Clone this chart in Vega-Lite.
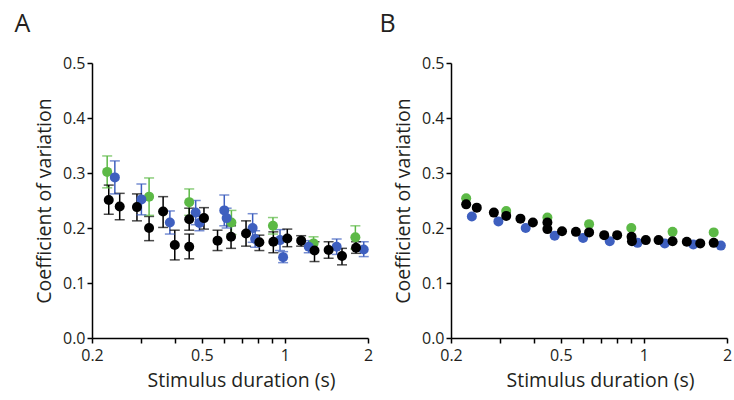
{
  "$schema": "https://vega.github.io/schema/vega-lite/v6.json",
  "padding": {"left": 14, "top": 12, "right": 2, "bottom": 2},
  "spacing": 6,
  "datasets": {
    "A": [
      {"g": "green", "x": 0.227, "y": 0.302, "lo": 0.273, "hi": 0.331},
      {"g": "green", "x": 0.322, "y": 0.257, "lo": 0.223, "hi": 0.291},
      {"g": "green", "x": 0.45, "y": 0.247, "lo": 0.223, "hi": 0.271},
      {"g": "green", "x": 0.64, "y": 0.21, "lo": 0.188, "hi": 0.232},
      {"g": "green", "x": 0.905, "y": 0.204, "lo": 0.189, "hi": 0.219},
      {"g": "green", "x": 1.27, "y": 0.172, "lo": 0.16, "hi": 0.184},
      {"g": "green", "x": 1.8, "y": 0.183, "lo": 0.162, "hi": 0.204},
      {"g": "blue", "x": 0.242, "y": 0.292, "lo": 0.262, "hi": 0.322},
      {"g": "blue", "x": 0.302, "y": 0.252, "lo": 0.224, "hi": 0.28},
      {"g": "blue", "x": 0.383, "y": 0.21, "lo": 0.189, "hi": 0.231},
      {"g": "blue", "x": 0.475, "y": 0.228, "lo": 0.206, "hi": 0.25},
      {"g": "blue", "x": 0.49, "y": 0.209, "lo": 0.195, "hi": 0.223},
      {"g": "blue", "x": 0.603, "y": 0.232, "lo": 0.204, "hi": 0.26},
      {"g": "blue", "x": 0.615, "y": 0.218, "lo": 0.2, "hi": 0.236},
      {"g": "blue", "x": 0.764, "y": 0.2, "lo": 0.174, "hi": 0.226},
      {"g": "blue", "x": 0.78, "y": 0.18, "lo": 0.165, "hi": 0.195},
      {"g": "blue", "x": 0.96, "y": 0.178, "lo": 0.159, "hi": 0.197},
      {"g": "blue", "x": 0.985, "y": 0.147, "lo": 0.137, "hi": 0.157},
      {"g": "blue", "x": 1.22, "y": 0.166, "lo": 0.155, "hi": 0.177},
      {"g": "blue", "x": 1.54, "y": 0.166, "lo": 0.152, "hi": 0.18},
      {"g": "blue", "x": 1.93, "y": 0.161, "lo": 0.148, "hi": 0.175},
      {"g": "black", "x": 0.23, "y": 0.251, "lo": 0.225, "hi": 0.278},
      {"g": "black", "x": 0.252, "y": 0.239, "lo": 0.215, "hi": 0.263},
      {"g": "black", "x": 0.291, "y": 0.238, "lo": 0.213, "hi": 0.262},
      {"g": "black", "x": 0.322, "y": 0.2, "lo": 0.177, "hi": 0.221},
      {"g": "black", "x": 0.362, "y": 0.23, "lo": 0.201, "hi": 0.257},
      {"g": "black", "x": 0.399, "y": 0.169, "lo": 0.142, "hi": 0.196},
      {"g": "black", "x": 0.45, "y": 0.166, "lo": 0.144, "hi": 0.189},
      {"g": "black", "x": 0.45, "y": 0.216, "lo": 0.196, "hi": 0.236},
      {"g": "black", "x": 0.509, "y": 0.218, "lo": 0.198, "hi": 0.237},
      {"g": "black", "x": 0.57, "y": 0.177, "lo": 0.159, "hi": 0.196},
      {"g": "black", "x": 0.638, "y": 0.184, "lo": 0.163, "hi": 0.204},
      {"g": "black", "x": 0.723, "y": 0.19, "lo": 0.167, "hi": 0.213},
      {"g": "black", "x": 0.808, "y": 0.174, "lo": 0.159, "hi": 0.187},
      {"g": "black", "x": 0.908, "y": 0.175, "lo": 0.155, "hi": 0.193},
      {"g": "black", "x": 1.02, "y": 0.181, "lo": 0.166, "hi": 0.198},
      {"g": "black", "x": 1.145, "y": 0.177, "lo": 0.167, "hi": 0.186},
      {"g": "black", "x": 1.28, "y": 0.159, "lo": 0.139, "hi": 0.175},
      {"g": "black", "x": 1.44, "y": 0.16, "lo": 0.145, "hi": 0.175},
      {"g": "black", "x": 1.61, "y": 0.149, "lo": 0.133, "hi": 0.163},
      {"g": "black", "x": 1.81, "y": 0.164, "lo": 0.154, "hi": 0.175}
    ],
    "B": [
      {"g": "green", "x": 0.227, "y": 0.254},
      {"g": "green", "x": 0.317, "y": 0.231},
      {"g": "green", "x": 0.447, "y": 0.219},
      {"g": "green", "x": 0.633, "y": 0.207},
      {"g": "green", "x": 0.9, "y": 0.2},
      {"g": "green", "x": 1.27, "y": 0.193},
      {"g": "green", "x": 1.79, "y": 0.192},
      {"g": "blue", "x": 0.238, "y": 0.221},
      {"g": "blue", "x": 0.297, "y": 0.212},
      {"g": "blue", "x": 0.373, "y": 0.2},
      {"g": "blue", "x": 0.475, "y": 0.186},
      {"g": "blue", "x": 0.602, "y": 0.182},
      {"g": "blue", "x": 0.752, "y": 0.176},
      {"g": "blue", "x": 0.948, "y": 0.173},
      {"g": "blue", "x": 1.19, "y": 0.172},
      {"g": "blue", "x": 1.51, "y": 0.17},
      {"g": "blue", "x": 1.9, "y": 0.168},
      {"g": "black", "x": 0.227, "y": 0.243},
      {"g": "black", "x": 0.248, "y": 0.237},
      {"g": "black", "x": 0.286, "y": 0.228},
      {"g": "black", "x": 0.317, "y": 0.222},
      {"g": "black", "x": 0.357, "y": 0.217},
      {"g": "black", "x": 0.396, "y": 0.21},
      {"g": "black", "x": 0.447, "y": 0.21},
      {"g": "black", "x": 0.447, "y": 0.198},
      {"g": "black", "x": 0.505, "y": 0.194},
      {"g": "black", "x": 0.567, "y": 0.193},
      {"g": "black", "x": 0.633, "y": 0.192},
      {"g": "black", "x": 0.718, "y": 0.187},
      {"g": "black", "x": 0.8, "y": 0.187},
      {"g": "black", "x": 0.902, "y": 0.184},
      {"g": "black", "x": 0.905, "y": 0.176},
      {"g": "black", "x": 1.016, "y": 0.178},
      {"g": "black", "x": 1.13, "y": 0.178},
      {"g": "black", "x": 1.27, "y": 0.176},
      {"g": "black", "x": 1.43, "y": 0.175},
      {"g": "black", "x": 1.6, "y": 0.172},
      {"g": "black", "x": 1.79, "y": 0.173}
    ]
  },
  "hconcat": [
    {
      "width": 276,
      "height": 275,
      "title": {"text": "A", "anchor": "start", "frame": "bounds", "dx": -20, "offset": 18},
      "data": {"name": "A"},
      "encoding": {
        "x": {"field": "x", "type": "quantitative", "title": "Stimulus duration (s)",
          "scale": {"type": "log", "domain": [0.2, 2], "nice": false},
          "axis": {"values": [0.2, 0.3, 0.4, 0.5, 0.6, 0.7, 0.8, 0.9, 1, 2],
            "labelExpr": "datum.value == 0.2 || datum.value == 0.5 || datum.value == 1 || datum.value == 2 ? datum.label : ''",
            "format": "~g", "labelFlush": false, "labelOverlap": false, "labelPadding": 4, "titlePadding": 8, "titleX": 149, "titleAlign": "center"}},
        "color": {"field": "g", "type": "nominal", "legend": null,
          "scale": {"domain": ["green", "blue", "black"], "range": ["#5cb946", "#3e5fbf", "#000000"]}}
      },
      "layer": [
        {"mark": {"type": "rule", "strokeWidth": 1.5},
          "encoding": {"y": {"field": "lo", "type": "quantitative", "title": "Coefficient of variation",
            "scale": {"domain": [0, 0.5], "nice": false},
            "axis": {"values": [0, 0.1, 0.2, 0.3, 0.4, 0.5], "format": ".1f", "labelPadding": 2, "titlePadding": 8}},
            "y2": {"field": "hi"}}},
        {"mark": {"type": "tick", "orient": "horizontal", "size": 10, "thickness": 1.5},
          "encoding": {"y": {"field": "hi", "type": "quantitative", "title": "Coefficient of variation"}}},
        {"mark": {"type": "tick", "orient": "horizontal", "size": 10, "thickness": 1.5},
          "encoding": {"y": {"field": "lo", "type": "quantitative", "title": "Coefficient of variation"}}},
        {"mark": {"type": "circle", "size": 100, "opacity": 1},
          "encoding": {"y": {"field": "y", "type": "quantitative", "title": "Coefficient of variation"}}}
      ]
    },
    {
      "width": 276,
      "height": 275,
      "title": {"text": "B", "anchor": "start", "frame": "bounds", "dx": -14, "offset": 18},
      "data": {"name": "B"},
      "mark": {"type": "circle", "size": 100, "opacity": 1},
      "encoding": {
        "x": {"field": "x", "type": "quantitative", "title": "Stimulus duration (s)",
          "scale": {"type": "log", "domain": [0.2, 2], "nice": false},
          "axis": {"values": [0.2, 0.3, 0.4, 0.5, 0.6, 0.7, 0.8, 0.9, 1, 2],
            "labelExpr": "datum.value == 0.2 || datum.value == 0.5 || datum.value == 1 || datum.value == 2 ? datum.label : ''",
            "format": "~g", "labelFlush": false, "labelOverlap": false, "labelPadding": 4, "titlePadding": 8, "titleX": 149, "titleAlign": "center"}},
        "y": {"field": "y", "type": "quantitative", "title": "Coefficient of variation",
          "scale": {"domain": [0, 0.5], "nice": false},
          "axis": {"values": [0, 0.1, 0.2, 0.3, 0.4, 0.5], "format": ".1f", "labelPadding": 2, "titlePadding": 8}},
        "color": {"field": "g", "type": "nominal", "legend": null,
          "scale": {"domain": ["green", "blue", "black"], "range": ["#5cb946", "#3e5fbf", "#000000"]}}
      }
    }
  ],
  "config": {
    "font": "Open Sans",
    "view": {"stroke": null},
    "title": {"fontSize": 25, "fontWeight": "normal", "color": "#231f20"},
    "axis": {"grid": false, "domainColor": "#000000", "domainWidth": 1.5, "tickColor": "#000000", "tickWidth": 1.5, "tickSize": 5,
      "labelFontSize": 16, "labelColor": "#231f20", "titleFontSize": 19.5, "titleFontWeight": "normal", "titleColor": "#231f20"}
  }
}
